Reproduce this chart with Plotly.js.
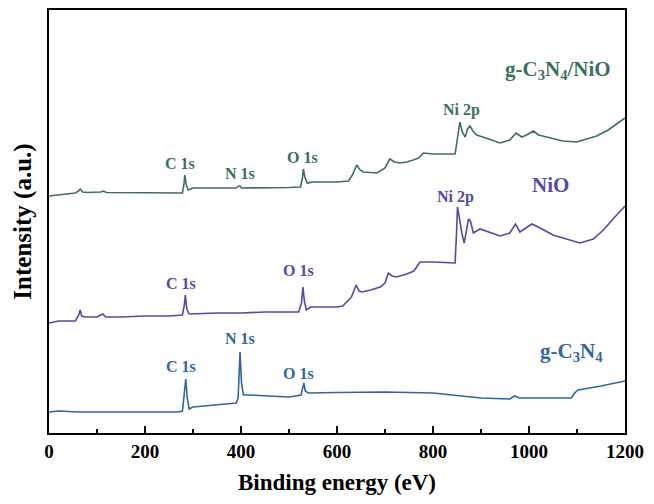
<!DOCTYPE html>
<html>
<head>
<meta charset="utf-8">
<script src="https://cdn.plot.ly/plotly-3.0.1.min.js"></script>
<style>
  html, body { margin: 0; padding: 0; background: #fff; }
  #chart { width: 654px; height: 504px; }
</style>
</head>
<body>
<div id="chart"></div>
<script>
// XPS survey spectra: binding energy (eV) vs. intensity (a.u., offset stacked)
const gc3n4Energy = [0, 20, 60, 150, 270, 278, 282, 285, 288, 292, 300, 350, 390, 394, 396, 398, 401, 405, 420, 500, 525, 528, 531, 534, 540, 600, 700, 800, 900, 960, 970, 980, 1050, 1088, 1095, 1102, 1150, 1200];
const gc3n4Intensity = [21, 22, 21, 21, 21, 22, 40, 54, 35, 24, 26, 28, 30, 35, 60, 81, 50, 38, 38, 36, 38, 44, 50, 42, 40, 40.5, 41, 40, 35, 34, 37, 35, 35, 35, 40, 43, 47, 52];

const nioEnergy = [0, 20, 55, 62, 65, 68, 75, 100, 108, 112, 118, 150, 200, 250, 278, 282, 284, 287, 292, 350, 400, 450, 520, 526, 529, 532, 536, 545, 600, 612, 620, 630, 640, 646, 652, 670, 690, 700, 707, 715, 724, 745, 760, 773, 800, 846, 849, 851, 855, 860, 865, 870, 874, 878, 884, 898, 940, 960, 972, 981, 995, 1006, 1023, 1050, 1071, 1106, 1134, 1155, 1175, 1200];
const nioIntensity = [110, 112, 112, 118, 123, 117, 116, 116, 118, 119, 116, 116, 117, 117, 118, 128, 138, 124, 119, 120, 120, 121, 121, 130, 146, 132, 123, 126, 126, 127, 131, 136, 148, 142, 141, 143, 146, 150, 160, 157, 156, 159, 162, 171, 171, 170, 200, 226, 215, 200, 190, 205, 214, 212, 200, 204, 197, 200, 209, 201, 205, 209, 205, 198, 195, 190, 194, 203, 214, 227];

const compEnergy = [0, 55, 62, 65, 70, 80, 108, 113, 120, 200, 278, 281, 283, 286, 290, 300, 320, 390, 395, 398, 401, 450, 500, 524, 528, 530, 533, 538, 550, 600, 624, 632, 641, 648, 655, 683, 700, 710, 720, 731, 745, 759, 770, 780, 800, 846, 852, 856, 861, 867, 872, 877, 883, 891, 910, 940, 960, 973, 985, 995, 1009, 1020, 1037, 1070, 1099, 1120, 1141, 1165, 1180, 1200];
const compIntensity = [237, 240, 242, 244, 241, 240.5, 241, 242, 240.5, 240.5, 240, 248, 258, 248, 243, 245, 245, 245, 247, 247, 245, 245, 245.5, 246, 255, 264, 256, 250, 251, 251, 252, 258, 268, 263, 261, 260, 265, 274, 271, 270, 271, 273, 275, 280, 279, 279, 300, 311, 301, 296, 304, 307, 302, 298, 295, 290, 293, 300, 296, 298, 302, 298, 296, 292, 291, 294, 297, 303, 308, 315];

const xTickValues = [0, 200, 400, 600, 800, 1000, 1200];
const xTickLabels = ['0', '200', '400', '600', '800', '1000', '1200'];

// peak labels: [text, energy, intensity, series]
const peakLabels = [
  ['C 1s', 273, 270, 'comp'], ['N 1s', 398, 260, 'comp'], ['O 1s', 529, 276, 'comp'], ['Ni 2p', 860, 323, 'comp'],
  ['C 1s', 276, 150, 'nio'], ['O 1s', 519, 163, 'nio'], ['Ni 2p', 846, 236, 'nio'],
  ['C 1s', 276, 67, 'gcn'], ['N 1s', 398, 95, 'gcn'], ['O 1s', 519, 60, 'gcn']
];
// sample names: [text, energy, intensity, series]
const sampleLabels = [
  ['g-C<sub>3</sub>N<sub>4</sub>/NiO', 1061, 363, 'comp'],
  ['NiO', 1044, 248, 'nio'],
  ['g-C<sub>3</sub>N<sub>4</sub>', 1089, 81, 'gcn']
];

const colors = { comp: 'rgb(60,112,94)', nio: 'rgb(82,74,172)', gcn: 'rgb(50,102,162)' };
const serif = 'Liberation Serif, Times New Roman, serif';

const traces = [
  { x: gc3n4Energy, y: gc3n4Intensity, mode: 'lines', line: { color: colors.gcn, width: 1.6 }, name: 'g-C3N4' },
  { x: nioEnergy, y: nioIntensity, mode: 'lines', line: { color: colors.nio, width: 1.6 }, name: 'NiO' },
  { x: compEnergy, y: compIntensity, mode: 'lines', line: { color: colors.comp, width: 1.6 }, name: 'g-C3N4/NiO' }
];

const annotations = peakLabels.map(p => ({
  text: '<b>' + p[0] + '</b>', x: p[1], y: p[2], xref: 'x', yref: 'y',
  showarrow: false, font: { family: serif, size: 16, color: colors[p[3]] }
})).concat(sampleLabels.map(s => ({
  text: '<b>' + s[0] + '</b>', x: s[1], y: s[2], xref: 'x', yref: 'y',
  showarrow: false, font: { family: serif, size: 21, color: colors[s[3]] }
})));

const layout = {
  width: 654, height: 504,
  margin: { l: 49, r: 29, t: 10, b: 71 },
  paper_bgcolor: '#fff', plot_bgcolor: '#fff',
  showlegend: false,
  xaxis: {
    range: [0, 1200], tickvals: xTickValues, ticktext: xTickLabels,
    ticks: 'inside', ticklen: 7, tickwidth: 1.5, tickcolor: '#000',
    minor: { dtick: 100, ticks: 'inside', ticklen: 4, tickwidth: 1.2, tickcolor: '#000' },
    showline: true, linecolor: '#000', linewidth: 2, mirror: true,
    showgrid: false, zeroline: false,
    tickfont: { family: serif, size: 19, color: '#000', weight: 'bold' },
    title: { text: '<b>Binding energy (eV)</b>', font: { family: serif, size: 23, color: '#000' }, standoff: 13 }
  },
  yaxis: {
    range: [0, 423], showticklabels: false, ticks: '',
    showline: true, linecolor: '#000', linewidth: 2, mirror: true,
    showgrid: false, zeroline: false,
    title: { text: '<b>Intensity (a.u.)</b>', font: { family: serif, size: 25, color: '#000' }, standoff: 8 }
  },
  annotations: annotations
};

Plotly.newPlot('chart', traces, layout, { displayModeBar: false, staticPlot: true });
</script>
</body>
</html>
